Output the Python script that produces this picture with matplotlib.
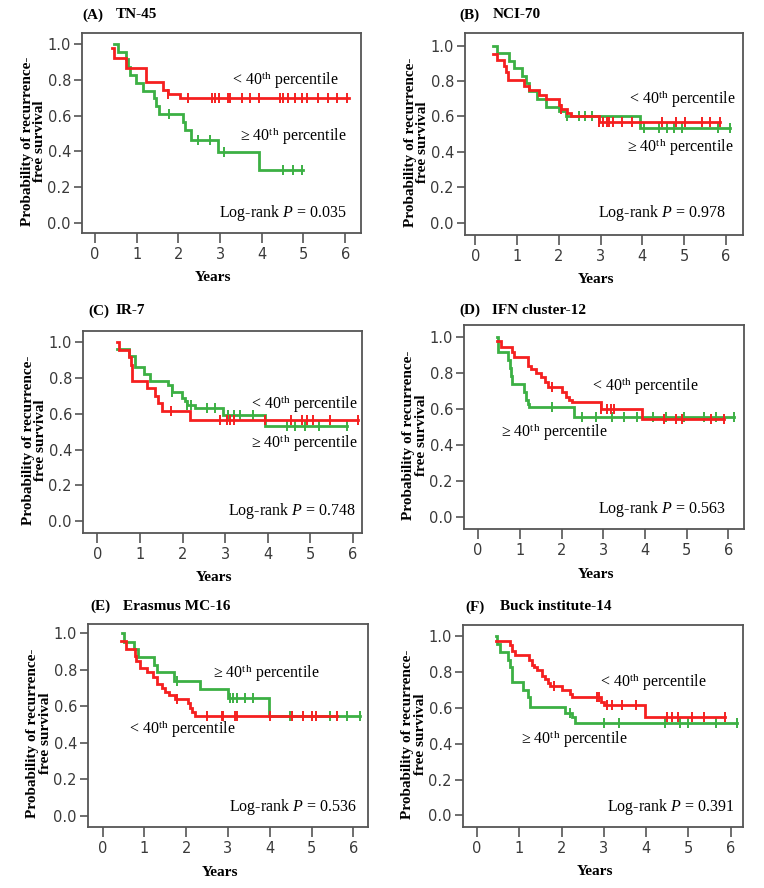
import numpy as np
import matplotlib
matplotlib.use("Agg")
import matplotlib.pyplot as plt

plt.rcParams['mathtext.fontset'] = 'custom'
plt.rcParams['mathtext.rm'] = 'Liberation Serif'
plt.rcParams['mathtext.it'] = 'Liberation Serif:italic'

SERIF = 'Liberation Serif'
RED = '#f52020'
GREEN = '#3cb044'

# ---- survival curves (time in years, survival prob) ----
# (A) TN-45
a_red_t = [0.42, 0.45, 0.74, 1.23, 1.63, 1.75, 2.04, 6.1]
a_red_s = [0.978, 0.92, 0.868, 0.785, 0.744, 0.722, 0.696, 0.696]
a_red_c = [1.75, 2.23, 2.8, 2.88, 2.97, 3.2, 3.25, 3.52, 3.71, 3.94, 4.44, 4.5,
           4.62, 4.8, 4.96, 5.08, 5.36, 5.6, 5.8, 6.05]
a_grn_t = [0.45, 0.55, 0.74, 0.79, 0.85, 0.99, 1.15, 1.41, 1.47, 1.54, 2.1, 2.16,
           2.3, 2.96, 3.94, 5.0]
a_grn_s = [1.0, 0.956, 0.913, 0.87, 0.826, 0.783, 0.739, 0.696, 0.652, 0.609,
           0.565, 0.522, 0.464, 0.398, 0.298, 0.298]
a_grn_c = [1.77, 2.48, 2.77, 3.09, 4.5, 4.76, 4.96]

# (B) NCI-70
b_red_t = [0.42, 0.52, 0.68, 0.74, 0.78, 1.16, 1.28, 1.52, 1.7, 2.0, 2.05, 2.2,
           2.3, 2.95, 5.87]
b_red_s = [0.956, 0.92, 0.887, 0.85, 0.805, 0.77, 0.75, 0.72, 0.70, 0.665, 0.64,
           0.62, 0.60, 0.568, 0.568]
b_red_c = [2.05, 2.95, 3.05, 3.15, 3.2, 3.3, 3.5, 3.75, 4.47, 4.8, 5.03, 5.43,
           5.63, 5.87]
b_grn_t = [0.42, 0.52, 0.8, 0.92, 1.12, 1.21, 1.28, 1.48, 1.7, 2.0, 2.17, 3.95, 6.1]
b_grn_s = [1.0, 0.96, 0.915, 0.872, 0.83, 0.79, 0.745, 0.70, 0.655, 0.63, 0.604,
           0.533, 0.533]
b_grn_c = [2.2, 2.47, 2.63, 2.8, 4.03, 4.39, 4.59, 4.75, 4.95, 5.8, 6.1]

# (C) IR-7
c_red_t = [0.47, 0.5, 0.73, 0.79, 0.82, 1.16, 1.35, 1.43, 1.51, 2.18, 6.13]
c_red_s = [1.0, 0.957, 0.915, 0.872, 0.785, 0.742, 0.70, 0.657, 0.615, 0.565, 0.565]
c_red_c = [1.73, 2.88, 3.04, 3.12, 3.2, 3.95, 4.55, 4.8, 4.92, 5.07, 5.47, 6.13]
c_grn_t = [0.47, 0.73, 0.88, 1.1, 1.24, 1.67, 1.75, 1.98, 2.05, 2.1, 2.3, 2.96,
           3.94, 5.86]
c_grn_s = [0.96, 0.92, 0.86, 0.82, 0.78, 0.76, 0.72, 0.69, 0.67, 0.65, 0.63, 0.59,
           0.532, 0.532]
c_grn_c = [1.75, 2.1, 2.2, 2.57, 2.76, 3.07, 3.2, 3.35, 3.66, 4.45, 4.64, 4.88,
           5.2, 5.86]

# (D) IFN cluster-12
d_red_t = [0.44, 0.54, 0.82, 0.86, 1.19, 1.26, 1.38, 1.5, 1.6, 1.67, 2.02, 2.1,
           2.18, 2.26, 2.94, 3.94, 5.9]
d_red_s = [0.975, 0.945, 0.918, 0.89, 0.84, 0.82, 0.80, 0.778, 0.75, 0.722, 0.694,
           0.666, 0.65, 0.637, 0.60, 0.545, 0.545]
d_red_c = [1.78, 2.94, 3.1, 3.18, 3.25, 4.46, 4.74, 4.9, 5.58, 5.9]
d_grn_t = [0.44, 0.47, 0.72, 0.76, 0.79, 0.82, 1.1, 1.15, 1.19, 1.22, 2.3, 6.14]
d_grn_s = [1.0, 0.913, 0.87, 0.826, 0.783, 0.739, 0.696, 0.652, 0.63, 0.609,
           0.557, 0.557]
d_grn_c = [1.78, 2.5, 2.82, 3.2, 3.5, 3.82, 4.2, 4.5, 4.94, 5.42, 5.7, 6.14]

# (E) Erasmus MC-16
e_red_t = [0.44, 0.57, 0.77, 0.81, 0.89, 1.05, 1.21, 1.3, 1.43, 1.5, 1.6, 1.73,
           2.05, 2.1, 2.15, 2.21, 5.62]
e_red_s = [0.96, 0.915, 0.875, 0.85, 0.81, 0.79, 0.763, 0.72, 0.70, 0.68, 0.66,
           0.64, 0.62, 0.59, 0.57, 0.548, 0.548]
e_red_c = [1.77, 2.49, 2.85, 2.89, 3.17, 3.22, 4.0, 4.52, 4.8, 5.0, 5.1, 5.62]
e_grn_t = [0.47, 0.5, 0.76, 0.85, 1.23, 1.29, 1.71, 2.33, 2.99, 3.97, 6.15]
e_grn_s = [1.0, 0.955, 0.913, 0.87, 0.828, 0.786, 0.74, 0.694, 0.645, 0.55, 0.55]
e_grn_c = [1.77, 3.05, 3.13, 3.22, 3.41, 3.6, 4.49, 5.44, 5.84, 6.15]

# (F) Buck institute-14
f_red_t = [0.45, 0.79, 0.83, 0.9, 1.22, 1.3, 1.34, 1.42, 1.54, 1.62, 1.68, 1.73,
           2.0, 2.2, 2.25, 2.93, 3.0, 3.98, 5.87]
f_red_s = [0.974, 0.95, 0.918, 0.894, 0.866, 0.84, 0.83, 0.81, 0.78, 0.76, 0.74,
           0.72, 0.70, 0.68, 0.66, 0.635, 0.614, 0.55, 0.55]
f_red_c = [1.81, 2.84, 2.88, 3.08, 3.19, 3.43, 3.75, 4.5, 4.61, 4.75, 5.09, 5.36,
           5.87]
f_grn_t = [0.45, 0.47, 0.55, 0.73, 0.79, 0.83, 1.08, 1.2, 1.26, 2.09, 2.25, 2.31,
           6.15]
f_grn_s = [1.0, 0.957, 0.914, 0.87, 0.83, 0.745, 0.70, 0.66, 0.605, 0.57, 0.55,
           0.518, 0.518]
f_grn_c = [2.2, 3.0, 3.37, 4.44, 4.81, 5.0, 5.64, 6.15]

letters = ['(A)', '(B)', '(C)', '(D)', '(E)', '(F)']
names = ['TN-45', 'NCI-70', 'IR-7', 'IFN cluster-12', 'Erasmus MC-16',
         'Buck institute-14']
p_values = ['0.035', '0.978', '0.748', '0.563', '0.536', '0.391']

red_curves = [(a_red_t, a_red_s, a_red_c), (b_red_t, b_red_s, b_red_c),
              (c_red_t, c_red_s, c_red_c), (d_red_t, d_red_s, d_red_c),
              (e_red_t, e_red_s, e_red_c), (f_red_t, f_red_s, f_red_c)]
grn_curves = [(a_grn_t, a_grn_s, a_grn_c), (b_grn_t, b_grn_s, b_grn_c),
              (c_grn_t, c_grn_s, c_grn_c), (d_grn_t, d_grn_s, d_grn_c),
              (e_grn_t, e_grn_s, e_grn_c), (f_grn_t, f_grn_s, f_grn_c)]

# ---- layout (pixels in a 764x888 canvas) ----
W, H = 764, 888
boxes = [(82, 33, 361, 233), (465, 33, 743, 235), (83, 331, 362, 533),
         (464, 325, 744, 529), (88, 624, 368, 827), (463, 625, 743, 827)]
xlims = [(-0.31, 6.38), (-0.25, 6.41), (-0.34, 6.22), (-0.34, 6.38),
         (-0.35, 6.35), (-0.33, 6.29)]
ylims = [(-0.056, 1.061), (-0.07, 1.072), (-0.065, 1.061), (-0.065, 1.065),
         (-0.06, 1.051), (-0.065, 1.063)]
title_pos = [(82, 116, 15), (459, 493, 15), (88, 116, 311), (459, 492, 310),
             (90, 123, 606), (465, 500, 607)]
# (x, y) of "< 40th" label, (x, y) of ">= 40th" label, (x, y) of log-rank
lt_pos = [(3.28, 0.80), (3.67, 0.697), (3.6, 0.652), (2.74, 0.728), (0.64, 0.478),
          (2.92, 0.745)]
ge_pos = [(3.48, 0.483), (3.63, 0.43), (3.6, 0.439), (0.54, 0.47), (2.63, 0.785),
          (1.05, 0.428)]
lr_pos = [(6.04, 0.054), (5.99, 0.053), (6.08, 0.058), (5.94, 0.044), (6.08, 0.049),
          (6.09, 0.047)]


def step_value(t, s, x):
    i = np.searchsorted(t, x, side='right') - 1
    return np.asarray(s)[np.clip(i, 0, len(s) - 1)]


fig = plt.figure(figsize=(W / 100, H / 100), dpi=100)

for k in range(6):
    x0, y0, x1, y1 = boxes[k]
    ax = fig.add_axes([x0 / W, 1 - y1 / H, (x1 - x0) / W, (y1 - y0) / H])

    for (t, s, c), col in [(grn_curves[k], GREEN), (red_curves[k], RED)]:
        ax.step(t, s, where='post', color=col, lw=2.0, solid_joinstyle='miter')
        cs = step_value(t, s, np.array(c))
        ax.plot(c, cs, ls='none', marker='|', ms=7, mew=1.4, color=col)

    ax.set_xlim(*xlims[k])
    ax.set_ylim(*ylims[k])
    ax.set_xticks(range(7))
    ax.set_yticks([0.0, 0.2, 0.4, 0.6, 0.8, 1.0])
    ax.set_yticklabels(['0.0', '0.2', '0.4', '0.6', '0.8', '1.0'])
    ax.tick_params(axis='x', direction='out', length=7, width=1.2, colors='#555',
                   labelcolor='#3a3a3a', labelsize=10.5, pad=3)
    ax.tick_params(axis='y', direction='out', length=6, width=1.2, colors='#555',
                   labelcolor='#3a3a3a', labelsize=10.5, pad=2)
    for sp in ax.spines.values():
        sp.set_color('#555')
        sp.set_linewidth(1.3)

    ax.set_ylabel('Probability of recurrence-\nfree survival', family=SERIF,
                  fontweight='bold', fontsize=11, linespacing=0.92)
    ax.yaxis.set_label_coords(-0.13, 0.46)
    ax.set_xlabel('Years', family=SERIF, fontweight='bold', fontsize=11)
    ax.xaxis.set_label_coords(0.47, -0.19)

    ax.text(*lt_pos[k], r'< 40$^{\rm th}$ percentile', family=SERIF, fontsize=11.5,
            ha='left', va='center')
    ax.text(*ge_pos[k], '\u2265 40$^{\\rm th}$ percentile', family=SERIF,
            fontsize=11.5, ha='left', va='center')
    ax.text(*lr_pos[k], 'Log-rank $P$ = ' + p_values[k], family=SERIF,
            fontsize=11.5, ha='right', va='center')

    lx, nx, ty = title_pos[k]
    fig.text(lx / W, 1 - ty / H, letters[k], family=SERIF, fontweight='bold',
             fontsize=11, va='center')
    fig.text(nx / W, 1 - ty / H, names[k], family=SERIF, fontweight='bold',
             fontsize=11, va='center')

fig.savefig('out.png', dpi=100)
